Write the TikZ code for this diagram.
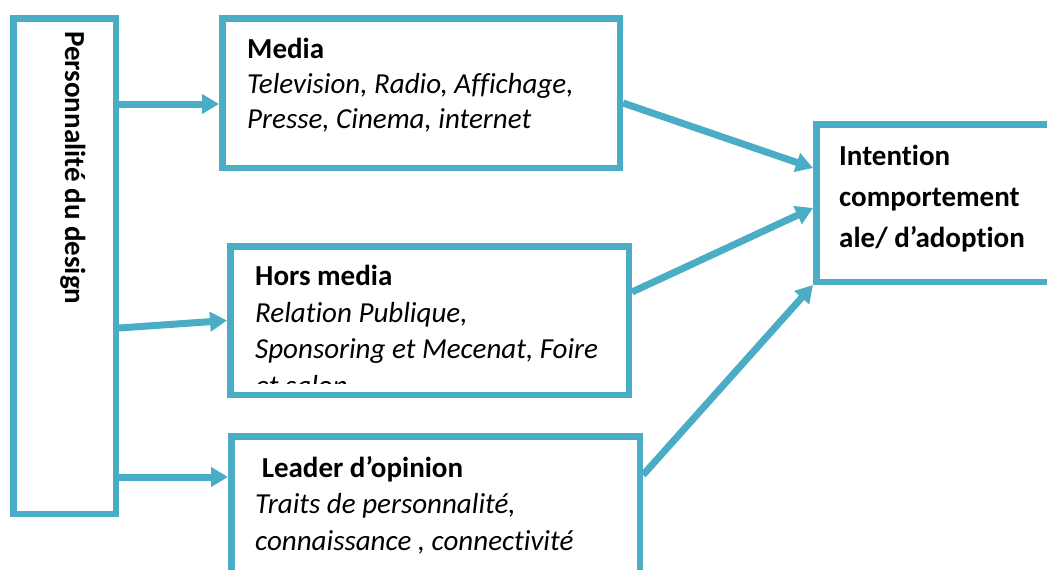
\documentclass[tikz,border=0pt]{standalone}
\usepackage{fontspec}
\setmainfont{Carlito}[Ligatures=NoCommon]
\usetikzlibrary{arrows.meta}
\definecolor{aqua}{HTML}{4BACC6}

\begin{document}
\begin{tikzpicture}[x=1pt, y=-1pt,
    frame/.style={draw=aqua, line width=6.5pt, anchor=north west, inner sep=0pt},
    txt/.style={anchor=north west, inner sep=0pt, align=left, font=\fontsize{29}{35}\selectfont},
    arr/.style={draw=aqua, line width=7pt, -{Triangle[length=17pt,width=19pt]}}]
    \useasboundingbox (0,0) rectangle (1047,570);
    \clip (0,0) rectangle (1047,570);

    % Source box on the left
    \node[frame, minimum width=102.5pt, minimum height=495.5pt] (pers) at (10,15) {};
    \node[txt, rotate=-90, anchor=base west] (pers-txt) at (65,31) {\textbf{Personnalité du design}};

    % Middle boxes
    \node[frame, minimum width=397.5pt, minimum height=149.5pt] (media) at (219,15) {};
    \node[txt] (media-txt) at (247,38) {\textbf{Media}\\ \textit{Television, Radio, Affichage,}\\ \textit{Presse, Cinema, internet}};

    \node[frame, minimum width=398.5pt, minimum height=148.5pt] (hors) at (227,243) {};
    \begin{scope}
        \clip (230,246) rectangle (629,383);
        \node[txt, font=\fontsize{29}{36.5}\selectfont] (hors-txt) at (255,265) {\textbf{Hors media}\\ \textit{Relation Publique,}\\ \textit{Sponsoring et Mecenat, Foire}\\ \textit{et salon}};
    \end{scope}

    \node[frame, minimum width=408.5pt, minimum height=200pt] (leader) at (228,433) {};
    \node[txt, font=\fontsize{29}{36.5}\selectfont] (leader-txt) at (255,456) {\textbf{\ Leader d’opinion}\\ \textit{Traits de personnalité,}\\ \textit{connaissance , connectivité}};

    % Target box on the right
    \node[frame, minimum width=300pt, minimum height=157.5pt] (intent) at (813,121) {};
    \node[txt, font=\fontsize{29}{41}\selectfont] (intent-txt) at (839,145) {\textbf{Intention}\\ \textbf{comportement}\\ \textbf{ale/ d’adoption}};

    % Arrows from the left box
    \coordinate (m-in) at ([yshift=-11pt]media.west);
    \coordinate (h-in) at (hors.west);
    \coordinate (l-in) at ([yshift=-44pt]leader.north west);
    \draw[arr] (pers.east |- m-in) -- (m-in);
    \draw[arr] ([yshift=-62pt]pers.east) -- (h-in);
    \draw[arr] (pers.east |- l-in) -- (l-in);

    % Arrows into the right box
    \draw[arr] ([yshift=-10pt]media.east) -- ([yshift=35pt]intent.west);
    \draw[arr] ([yshift=28.5pt]hors.east) -- ([yshift=-5pt]intent.west);
    \draw[arr] ([yshift=-42pt]leader.north east) -- (intent.south west);
\end{tikzpicture}
\end{document}
